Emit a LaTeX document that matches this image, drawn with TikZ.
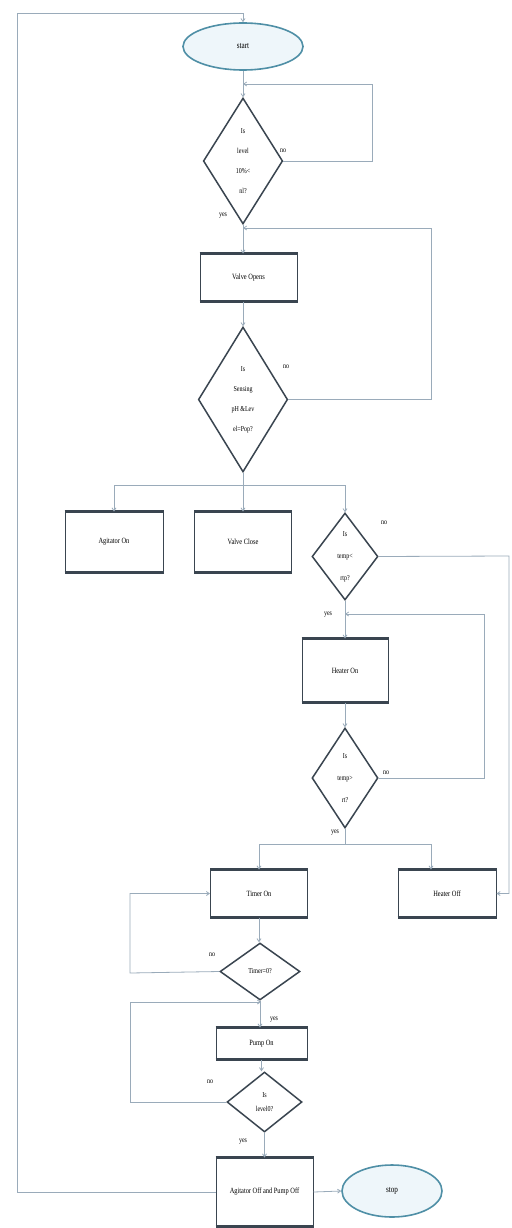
\documentclass[tikz,border=0pt]{standalone}
\usepackage{fontspec}
\setmainfont[FakeStretch=0.8]{Liberation Serif}
\usetikzlibrary{shapes.geometric,arrows.meta}
\definecolor{edgec}{HTML}{9AABBA}
\definecolor{boxc}{HTML}{3A4550}
\definecolor{ellc}{HTML}{4F8FA6}
\definecolor{ellf}{HTML}{EEF6FA}
\tikzset{
  procbox/.style={rectangle, draw=boxc, line width=1pt, fill=white, inner sep=1pt,
    font=\fontsize{8}{9}\selectfont, align=center},
  decide/.style={diamond, draw=boxc, line width=1.5pt, fill=white, inner sep=0pt,
    font=\fontsize{7.5}{20}\selectfont, align=center},
  term/.style={ellipse, draw=ellc, line width=1.6pt, fill=ellf, inner sep=0pt,
    font=\fontsize{9}{10}\selectfont},
  conn/.style={draw=edgec, line width=0.8pt, -{Straight Barb[length=3pt,width=4pt]}},
  plain/.style={draw=edgec, line width=0.8pt},
  lab/.style={font=\fontsize{7.5}{8}\selectfont, inner sep=0pt}
}
\begin{document}
\begin{tikzpicture}[x=1pt,y=-1pt]
\useasboundingbox[fill=white] (0,0) rectangle (511,1228);

% nodes
\node[term, minimum width=120pt, minimum height=47pt] (start) at (243,46.5) {start};
\node[decide, minimum width=65pt, minimum height=126pt] (d1) at (243,161) {Is\\level\\10\%<\\nl?};
\node[procbox, minimum width=97pt, minimum height=47pt] (valve) at (248.5,277.5) {Valve Opens};
\node[decide, minimum width=76pt, minimum height=145pt] (d2) at (243,399.5) {Is\\Sensing\\pH \&Lev\\el=Pop?};
\node[procbox, minimum width=98pt, minimum height=60pt] (ag) at (114,542) {Agitator On};
\node[procbox, minimum width=97pt, minimum height=60pt] (vc) at (243,542) {Valve Close};
\node[decide, minimum width=66pt, minimum height=87pt, font=\fontsize{7.5}{22}\selectfont] (d3) at (345,556.5) {Is\\temp<\\rtp?};
\node[procbox, minimum width=86pt, minimum height=63pt] (hon) at (345,670.5) {Heater On};
\node[decide, minimum width=66pt, minimum height=100pt, font=\fontsize{7.5}{22}\selectfont] (d4) at (345,778) {Is\\temp>\\rt?};
\node[procbox, minimum width=97pt, minimum height=47pt] (timer) at (259,893.5) {Timer On};
\node[procbox, minimum width=98pt, minimum height=47pt] (hoff) at (447,893.5) {Heater Off};
\node[decide, minimum width=80pt, minimum height=57pt] (d5) at (260,971.5) {Timer=0?};
\node[procbox, minimum width=91pt, minimum height=31pt] (pump) at (261.5,1043.5) {Pump On};
\node[decide, minimum width=75pt, minimum height=60pt, font=\fontsize{7.5}{14}\selectfont] (d6) at (264.5,1102) {Is\\level0?};
\node[procbox, minimum width=97pt, minimum height=68pt] (aoff) at (264.5,1192) {Agitator Off and Pump Off};
\node[term, minimum width=100pt, minimum height=52pt] (stop) at (392,1191) {stop};

% thick top/bottom edges of the process boxes
\foreach \n in {valve,ag,vc,hon,timer,hoff,pump,aoff} {
  \draw[boxc, line width=2.4pt] (\n.north west) -- (\n.north east);
  \draw[boxc, line width=2.4pt] (\n.south west) -- (\n.south east);
}

% helper coordinates
\coordinate (lt) at (17,13);
\coordinate (r1) at (372,84);
\coordinate (j1) at (243,84);
\coordinate (r2) at (431,228);
\coordinate (j2) at (243,228);
\coordinate (b1) at (243,485);
\coordinate (r3) at (509,556);
\coordinate (r4) at (484,614);
\coordinate (j4) at (345,614);
\coordinate (b2) at (345,844);
\coordinate (l5) at (130,973);
\coordinate (l6) at (130,1002);
\coordinate (j6) at (261,1002);

% connectors
\draw[conn] (aoff.west) -| (lt) -| (start.north);
\draw[conn] (start.south) -- (d1.north);
\draw[conn] (d1.east) -| (r1) -- (j1);
\draw[conn] (d1.south) -- (d1.south |- valve.north);
\draw[conn] (d2.north |- valve.south) -- (d2.north);
\draw[conn] (d2.east) -| (r2) -- (j2);
\draw[plain] (d2.south) -- (b1);
\draw[conn] (b1) -| (ag.north);
\draw[conn] (b1) -- (vc.north);
\draw[conn] (b1) -| (d3.north);
\draw[conn] (d3.east) -- (r3) |- (hoff.east);
\draw[conn] (d3.south) -- (hon.north);
\draw[conn] (hon.south) -- (d4.north);
\draw[conn] (d4.east) -| (r4) -- (j4);
\draw[plain] (d4.south) -- (b2);
\draw[conn] (b2) -| (timer.north);
\draw[conn] (b2) -| ([xshift=-16pt]hoff.north);
\draw[conn] (timer.south) -- (timer.south |- d5.north);
\draw[conn] (d5.west) -- (l5) |- (timer.west);
\draw[conn] (d5.south) -- (d5.south |- pump.north);
\draw[conn] (d6.west) -| (l6) -- (j6);
\draw[conn] (pump.south) -- (pump.south |- d6.north);
\draw[conn] (d6.south) -- (d6.south |- aoff.north);
\draw[conn] (aoff.east) -- (stop.west);

% branch labels
\node[lab] (n1) at (283,151) {no};
\node[lab] (y1) at (223,216) {yes};
\node[lab] (n2) at (286,367) {no};
\node[lab] (n3) at (384,523) {no};
\node[lab] (y3) at (328,615) {yes};
\node[lab] (n4) at (386,773) {no};
\node[lab] (y4) at (335,833) {yes};
\node[lab] (n5) at (212,955) {no};
\node[lab] (y5) at (274,1020) {yes};
\node[lab] (n6) at (210,1082) {no};
\node[lab] (y6) at (243,1142) {yes};
\end{tikzpicture}
\end{document}
